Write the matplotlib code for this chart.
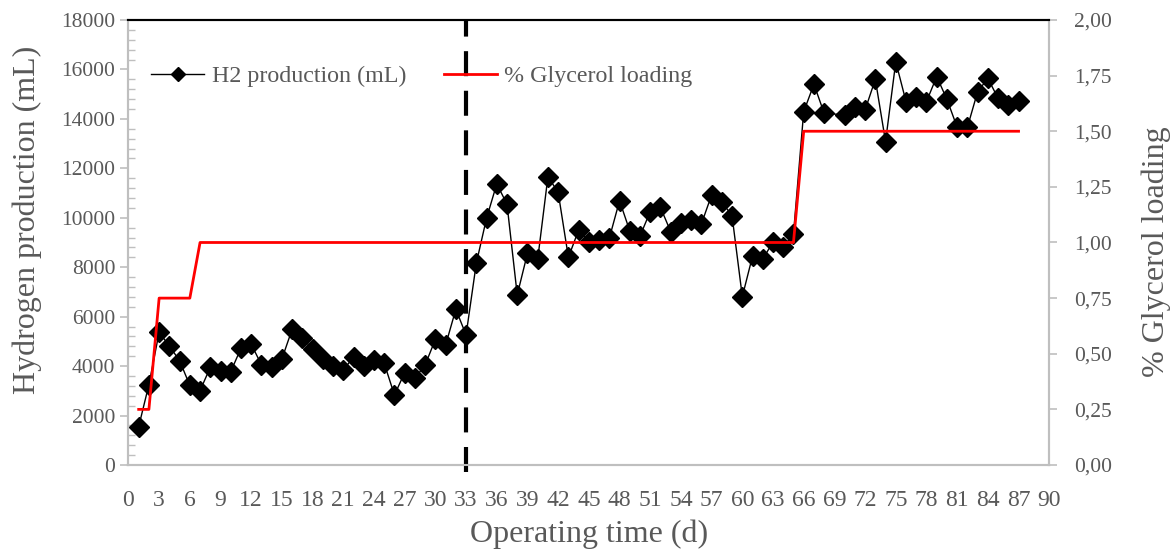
import numpy as np
import matplotlib
matplotlib.use('Agg')
import matplotlib.pyplot as plt
from matplotlib.ticker import MultipleLocator, FuncFormatter

plt.rcParams['font.family'] = ['Liberation Serif', 'DejaVu Serif']

# H2 production per day (mL) - day 69 not measured
days = [1, 2, 3, 4, 5, 6, 7, 8, 9, 10, 11, 12, 13, 14, 15, 16, 17, 18, 19, 20,
        21, 22, 23, 24, 25, 26, 27, 28, 29, 30, 31, 32, 33, 34, 35, 36, 37, 38, 39, 40,
        41, 42, 43, 44, 45, 46, 47, 48, 49, 50, 51, 52, 53, 54, 55, 56, 57, 58, 59, 60,
        61, 62, 63, 64, 65, 66, 67, 68, 70, 71, 72, 73, 74, 75, 76, 77, 78, 79, 80,
        81, 82, 83, 84, 85, 86, 87]
h2 = [1550, 3250, 5370, 4810, 4220, 3220, 3010, 3950, 3820, 3780, 4720, 4890, 4050, 3950, 4290, 5490, 5150, 4680, 4280, 4010,
      3850, 4360, 4010, 4250, 4110, 2830, 3740, 3510, 4050, 5080, 4850, 6300, 5260, 8160, 9980, 11370, 10550, 6880, 8560, 8320,
      11660, 11030, 8400, 9500, 9030, 9100, 9170, 10690, 9470, 9260, 10250, 10420, 9440, 9780, 9910, 9750, 10920, 10650, 10070, 6810,
      8450, 8320, 9030, 8830, 9340, 14290, 15400, 14230, 14160, 14490, 14360, 15600, 13080, 16310, 14700, 14900, 14700, 15710, 14790,
      13660, 13660, 15100, 15640, 14830, 14560, 14720]

# glycerol loading steps (%)
gly_days = [1, 2, 3, 6, 7, 65, 66, 87]
gly = [0.25, 0.25, 0.75, 0.75, 1.0, 1.0, 1.5, 1.5]

gray = '#595959'
spine_gray = '#BFBFBF'

fig = plt.figure(figsize=(11.73, 5.52), dpi=100)
ax = fig.add_axes([0.1095, 0.1576, 0.785, 0.8062])
ax2 = ax.twinx()

ax.plot(days, h2, color='black', lw=1, marker='D', ms=10.5, mec='black',
        label='H2 production (mL)', zorder=3)
ax2.plot(gly_days, gly, color='#FF0000', lw=2, label='% Glycerol loading')
ax.plot([33, 33], [-300, 18000], color='black', lw=3, ls=(0, (6, 3.5)),
        clip_on=False, zorder=4)

ax.set_xlim(0, 90)
ax.set_ylim(0, 18000)
ax2.set_ylim(0, 2)
ax.set_xticks(np.arange(0, 91, 3))
ax.yaxis.set_major_locator(MultipleLocator(2000))
ax.yaxis.set_minor_locator(MultipleLocator(400))
ax2.yaxis.set_major_locator(MultipleLocator(0.25))
ax2.yaxis.set_major_formatter(FuncFormatter(lambda v, p: f'{v:.2f}'.replace('.', ',')))

ax.tick_params(axis='x', length=0, labelsize=17, labelcolor=gray, pad=18)
ax.tick_params(axis='y', which='major', direction='out', length=6, color=spine_gray,
               labelsize=15.5, labelcolor=gray, width=1.2)
ax.tick_params(axis='y', which='minor', direction='in', length=5, color=spine_gray, width=1)
ax2.tick_params(axis='y', direction='out', length=6, color=spine_gray, width=1.2,
                labelsize=15.5, labelcolor=gray, pad=12)

for a in (ax, ax2):
    for s in ('left', 'right', 'bottom'):
        a.spines[s].set_color(spine_gray)
        a.spines[s].set_linewidth(1.5)
    a.spines['top'].set_color('black')
    a.spines['top'].set_linewidth(1.5)

ax.set_xlabel('Operating time (d)', fontsize=23, color=gray, labelpad=6)
ax.set_ylabel('Hydrogen production (mL)', fontsize=23, color=gray)
ax.yaxis.set_label_coords(-0.094, 0.55)
ax2.set_ylabel('% Glycerol loading', fontsize=23, color=gray)
ax2.yaxis.set_label_coords(1.1, 0.48)

h1, l1 = ax.get_legend_handles_labels()
h2_, l2 = ax2.get_legend_handles_labels()
leg = ax2.legend(h1 + h2_, l1 + l2, loc='center left', bbox_to_anchor=(0.025, 0.874),
                 ncol=2, frameon=False, fontsize=17.3, handlelength=2.2,
                 handletextpad=0.3, columnspacing=1.6, markerscale=0.7,
                 borderaxespad=0, borderpad=0)
for t in leg.get_texts():
    t.set_color(gray)

fig.savefig('out.png', dpi=100)
